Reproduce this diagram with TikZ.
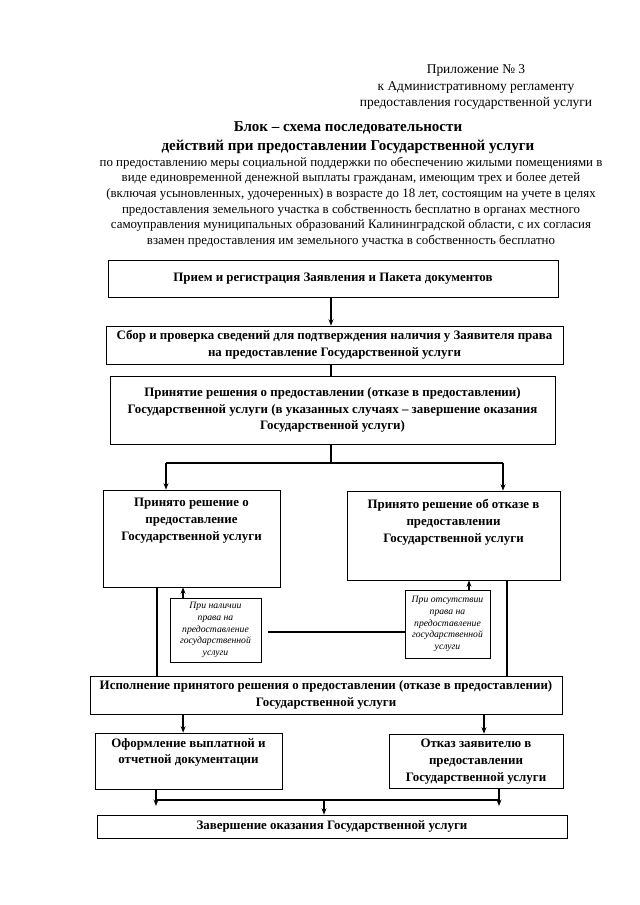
\documentclass[tikz,border=0pt]{standalone}
\usepackage{fontspec}
\setmainfont{Liberation Serif}
\usetikzlibrary{arrows.meta}

\begin{document}
\begin{tikzpicture}[
  x=0.93pt, y=-0.93pt,
  >={Stealth[length=6pt,width=4.6pt]},
  box/.style={draw, line width=0.6pt, align=center, inner sep=0pt, font=\fontsize{12}{15.5}\selectfont\bfseries},
  toptext/.style={anchor=north, align=center, inner sep=0pt, font=\fontsize{12}{15.5}\selectfont\bfseries},
  notebox/.style={draw, line width=0.6pt, align=center, inner sep=0pt, font=\fontsize{9}{10.9}\selectfont\itshape},
  link/.style={draw, line width=1.6pt},
  arr/.style={draw, ->, line width=1.4pt}
]
\useasboundingbox (0,0) rectangle (640,905);

\node[align=center, font=\fontsize{12.5}{15.3}\selectfont] (annex) at (476,87)
  {Приложение № 3\\к Административному регламенту\\предоставления государственной услуги};
\node[align=center, font=\fontsize{14}{17.7}\selectfont\bfseries] (title) at (348,137.5)
  {Блок – схема последовательности\\действий при предоставлении Государственной услуги};
\node[align=center, font=\fontsize{12}{14.5}\selectfont] (descr) at (351,202)
  {по предоставлению меры социальной поддержки по обеспечению жилыми помещениями в\\
   виде единовременной денежной выплаты гражданам, имеющим трех и более детей\\
   (включая усыновленных, удочеренных) в возрасте до 18 лет, состоящим на учете в целях\\
   предоставления земельного участка в собственность бесплатно в органах местного\\
   самоуправления муниципальных образований Калининградской области, с их согласия\\
   взамен предоставления им земельного участка в собственность бесплатно};

\node[box, minimum width=418.5pt, minimum height=34.4pt] (reception) at (333,278.5)
  {Прием и регистрация Заявления и Пакета документов};
\node[box, minimum width=425pt, minimum height=35.3pt] (check) at (334.5,345)
  {Сбор и проверка сведений для подтверждения наличия у Заявителя права\\на предоставление Государственной услуги};
\node[box, minimum width=413.9pt, minimum height=63.2pt] (decision) at (332.5,410)
  {Принятие решения о предоставлении (отказе в предоставлении)\\Государственной услуги (в указанных случаях – завершение оказания\\Государственной услуги)};

\node[box, minimum width=164.6pt, minimum height=90.2pt,
  label={[toptext, yshift=-8pt]north:Принято решение о\\предоставление\\Государственной услуги}] (granted) at (191.5,538.5) {};
\node[box, minimum width=198.1pt, minimum height=82.8pt,
  label={[toptext, yshift=-8pt]north:Принято решение об отказе в\\предоставлении\\Государственной услуги}] (refused) at (453.5,535.5) {};

\node[notebox, minimum width=84.6pt, minimum height=59.5pt] (noteyes) at (215.5,630)
  {При наличии\\права на\\предоставление\\государственной\\услуги};
\node[notebox, minimum width=79pt, minimum height=63.2pt] (noteno) at (447.5,624)
  {При отсутствии\\права на\\предоставление\\государственной\\услуги};

\node[box, minimum width=439pt, minimum height=35.3pt] (execution) at (326,695)
  {Исполнение принятого решения о предоставлении (отказе в предоставлении)\\Государственной услуги};

\node[box, minimum width=173.9pt, minimum height=52.1pt,
  label={[toptext, yshift=-5pt]north:Оформление выплатной и\\отчетной документации}] (payment) at (188.5,761) {};
\node[box, minimum width=161.8pt, minimum height=50.2pt,
  label={[toptext, yshift=-5pt]north:Отказ заявителю в\\предоставлении\\Государственной услуги}] (denial) at (476,761) {};

\node[box, minimum width=437.1pt, minimum height=21.4pt] (finish) at (332,826.5)
  {Завершение оказания Государственной услуги};

\coordinate (fork) at (331,463);
\coordinate (forkL) at (166,463);
\coordinate (forkR) at (503,463);
\coordinate (bridge) at (268,632);
\coordinate (joinL) at (156,806);
\coordinate (joinR) at (499,806);
\coordinate (join) at (324,800);

\draw[arr] (reception.south -| fork) -- (check.north -| fork);
\draw[link] (check.south -| fork) -- (decision.north -| fork);
\draw[link] (decision.south -| fork) -- (fork);
\draw[link] (forkL) -- (forkR);
\draw[arr] (forkL) -- (forkL |- granted.north);
\draw[arr] (forkR) -- (forkR |- refused.north);

\draw[arr] ([xshift=-30.2pt]noteyes.north) -- ([xshift=-30.2pt]noteyes.north |- granted.south);
\draw[arr] ([xshift=20pt]noteno.north) -- ([xshift=20pt]noteno.north |- refused.south);
\draw[link, line width=2.2pt] (bridge) -- (bridge -| noteno.west);
\draw[link] ([xshift=-32pt]granted.south) -- ([xshift=-32pt]granted.south |- execution.north);
\draw[link] ([xshift=49.8pt]refused.south) -- ([xshift=49.8pt]refused.south |- execution.north);

\draw[arr] ([xshift=-5pt]payment.north |- execution.south) -- ([xshift=-5pt]payment.north);
\draw[arr] ([xshift=7.4pt]denial.north |- execution.south) -- ([xshift=7.4pt]denial.north);

\draw[arr] (payment.south -| joinL) -- (joinL);
\draw[arr] (denial.south -| joinR) -- (joinR);
\draw[link] (joinL |- join) -- (joinR |- join);
\draw[arr] (join) -- (join |- finish.north);
\end{tikzpicture}
\end{document}
